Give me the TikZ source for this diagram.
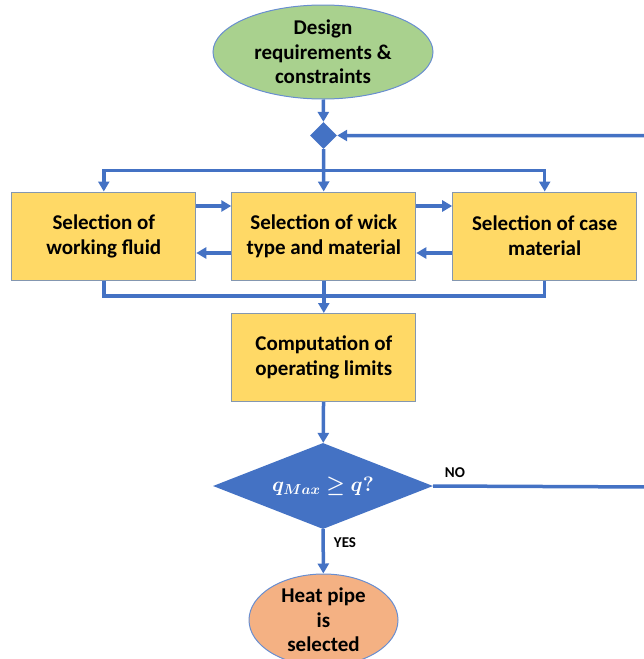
\documentclass[tikz,border=0pt]{standalone}
\usepackage{bm}
\usepackage{fontspec}
\setmainfont{Carlito}
\usetikzlibrary{shapes.geometric,arrows.meta}
\definecolor{flowblue}{HTML}{4472C4}
\definecolor{startgreen}{HTML}{A9D18E}
\definecolor{boxyellow}{HTML}{FFD966}
\definecolor{endorange}{HTML}{F4B183}
\definecolor{boxedge}{HTML}{8497B0}
\tikzset{
	line/.style={draw=flowblue, line width=3.5pt},
	flow/.style={line, -{Triangle[length=10pt,width=11pt]}},
	task/.style={rectangle, draw=boxedge, line width=1pt, fill=boxyellow, minimum width=184pt, minimum height=88pt, align=center, font=\fontsize{21}{25}\selectfont\bfseries},
	terminal/.style={ellipse, draw=flowblue!80, line width=1pt, inner sep=0pt, align=center, font=\fontsize{21}{24.5}\selectfont\bfseries},
	tag/.style={inner sep=0pt, font=\fontsize{15}{17}\selectfont\bfseries}
}
\begin{document}
\begin{tikzpicture}[x=1pt, y=-1pt]
	\useasboundingbox (0,0) rectangle (644,659);
	\node[terminal, fill=startgreen, minimum width=220pt, minimum height=94pt] (start) at (323,52) {Design\\requirements \&\\constraints};
	\node[diamond, fill=flowblue, inner sep=0pt, minimum width=27pt, minimum height=27pt] (mix) at (323.5,135.5) {};
	\node[task] (fluid) at (103.8,236) {Selection of\\working fluid};
	\node[task] (wick) at (323.8,236) {Selection of wick\\type and material};
	\node[task] (case) at (544.7,236) {Selection of case\\material};
	\node[task] (limits) at (323.8,357.5) {Computation of\\operating limits};
	\node[diamond, aspect=2.56, fill=flowblue, inner sep=0pt, minimum width=220pt, minimum height=86pt, text=white, font=\fontsize{22}{25}\selectfont] (check) at (323,486) {$\bm{q_{Max}\geq q?}$};
	\node[terminal, fill=endorange, minimum width=149pt, minimum height=92pt] (done) at (323.5,620) {Heat pipe\\is\\selected};
	\coordinate (split) at (323.5,170.5);
	\coordinate (join) at (323.5,296);
	\coordinate (loop) at (655,487);

	\draw[flow] (start) -- (mix);
	\draw[flow] (mix) -- (wick);
	\draw[flow] (split) -| (fluid);
	\draw[flow] (split) -| (case);
	\draw[flow] (fluid.east |- 0,206) -- (wick.west |- 0,206);
	\draw[flow] (wick.east |- 0,206) -- (case.west |- 0,206);
	\draw[flow] (wick.west |- 0,253) -- (fluid.east |- 0,253);
	\draw[flow] (case.west |- 0,253) -- (wick.east |- 0,253);
	\draw[line] (fluid.south) |- (join);
	\draw[line] (case.south) |- (join);
	\draw[flow] (wick) -- (limits);
	\draw[flow] (limits) -- (check);
	\draw[flow] (check) -- (done) node[tag, pos=0.3, anchor=west, xshift=9pt] {YES};
	\draw[flow] (check.east) -- (loop) node[tag, pos=0, anchor=south west, xshift=10pt, yshift=7pt] {NO} |- (mix.east);
\end{tikzpicture}
\end{document}
